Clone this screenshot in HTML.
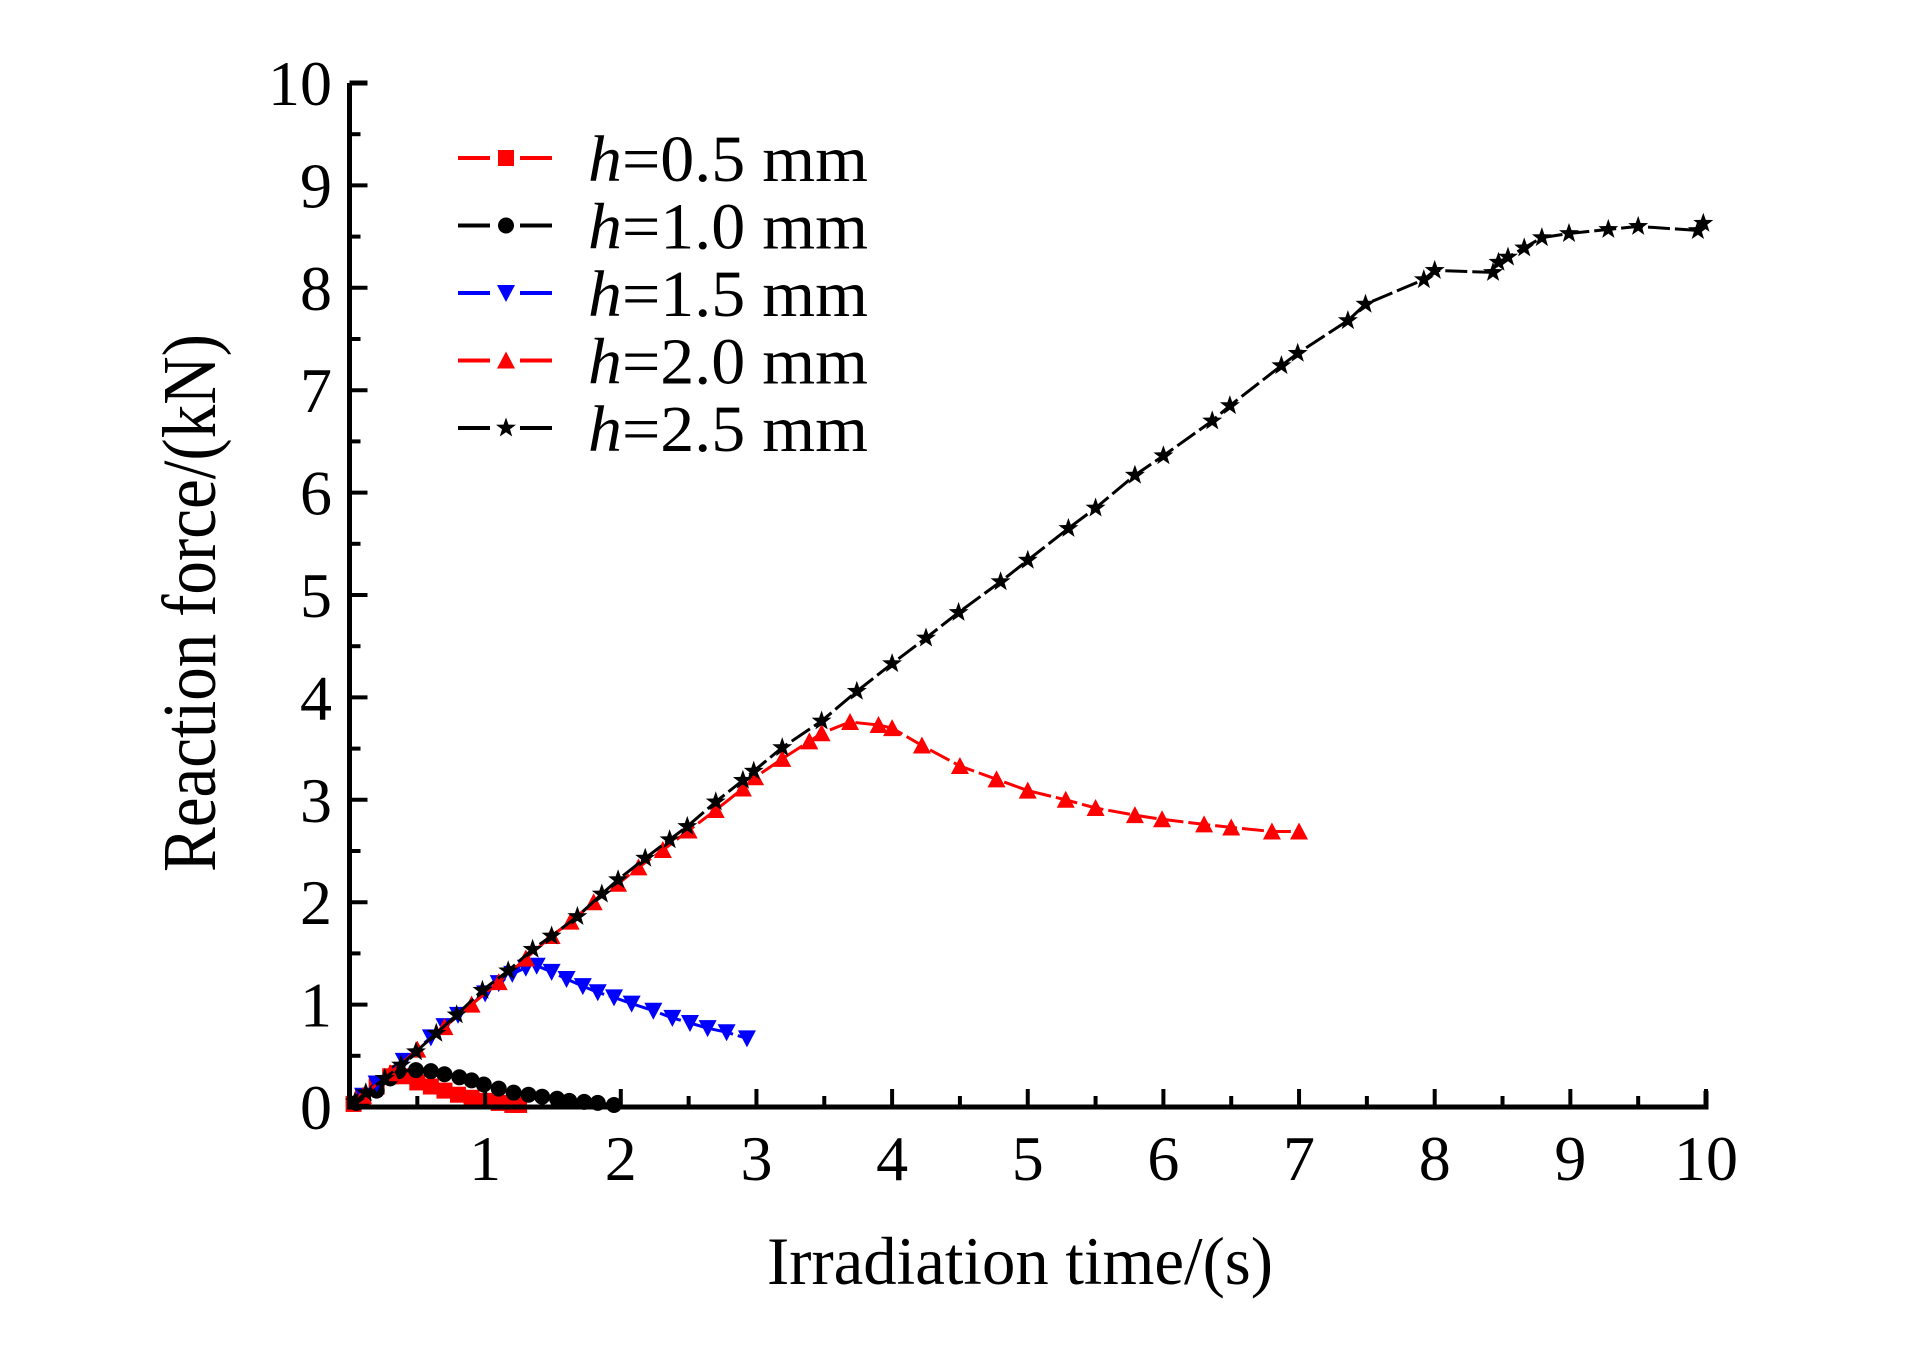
<!DOCTYPE html>
<html><head><meta charset="utf-8"><style>
html,body{margin:0;padding:0;background:#fff;}
svg{display:block;font-family:"Liberation Serif",serif;}
</style></head><body>
<svg id="chart" width="1923" height="1363" viewBox="0 0 1923 1363" xmlns="http://www.w3.org/2000/svg">
<rect width="1923" height="1363" fill="#fff"/>
<g id="series"></g>
<g id="axes"></g>
<text x="190" y="603" font-size="76" text-anchor="middle" textLength="538" lengthAdjust="spacingAndGlyphs" transform="rotate(-90 190 603) translate(0 25)">Reaction force/(kN)</text>
<text x="1020" y="1284" font-size="68" text-anchor="middle" textLength="506" lengthAdjust="spacingAndGlyphs">Irradiation time/(s)</text>
<g id="legend"></g>
</svg>
<script>
const xTicks=[0,1,2,3,4,5,6,7,8,9,10];
const yTicks=[0,1,2,3,4,5,6,7,8,9,10];
const t05=[0.03,0.1,0.2,0.3,0.35,0.4,0.5,0.6,0.7,0.8,0.9,1.0,1.1,1.2,1.25];
const v05=[0.03,0.1,0.2,0.3,0.33,0.3,0.24,0.2,0.16,0.12,0.09,0.06,0.04,0.02,0.02];
const t10=[0.05,0.1,0.2,0.3,0.36,0.49,0.6,0.7,0.81,0.9,0.99,1.1,1.21,1.32,1.42,1.53,1.62,1.73,1.83,1.95];
const v10=[0.04,0.08,0.16,0.28,0.35,0.36,0.35,0.32,0.29,0.26,0.22,0.18,0.14,0.12,0.1,0.08,0.06,0.05,0.04,0.02];
const t15=[0.1,0.2,0.4,0.6,0.7,0.8,1.0,1.1,1.2,1.3,1.38,1.49,1.6,1.72,1.83,1.95,2.08,2.24,2.38,2.51,2.64,2.78,2.93];
const v15=[0.11,0.23,0.45,0.68,0.79,0.9,1.11,1.21,1.3,1.36,1.38,1.32,1.25,1.18,1.12,1.07,1.01,0.94,0.87,0.82,0.77,0.73,0.67];
const t20=[0.1,0.3,0.5,0.7,0.9,1.1,1.3,1.49,1.63,1.8,1.98,2.13,2.31,2.5,2.7,2.9,2.99,3.19,3.39,3.48,3.69,3.9,4.0,4.22,4.5,4.77,5.0,5.28,5.5,5.79,5.99,6.3,6.5,6.8,7.0];
const v20=[0.11,0.33,0.56,0.78,1.0,1.22,1.45,1.67,1.81,2.0,2.18,2.34,2.51,2.7,2.9,3.11,3.22,3.4,3.57,3.65,3.76,3.73,3.7,3.53,3.33,3.2,3.09,3.0,2.92,2.85,2.81,2.76,2.73,2.69,2.69];
const t25=[0.04,0.12,0.26,0.38,0.49,0.64,0.79,0.98,1.17,1.35,1.49,1.68,1.86,1.98,2.18,2.36,2.49,2.7,2.9,2.98,3.19,3.48,3.74,4.0,4.25,4.49,4.8,5.0,5.3,5.5,5.79,6.0,6.36,6.49,6.87,6.99,7.36,7.49,7.92,8.0,8.43,8.47,8.54,8.66,8.79,8.99,9.28,9.5,9.94,9.98];
const v25=[0.05,0.14,0.28,0.41,0.54,0.72,0.9,1.14,1.33,1.54,1.67,1.86,2.08,2.22,2.43,2.61,2.74,2.98,3.19,3.28,3.51,3.77,4.06,4.33,4.58,4.83,5.13,5.34,5.65,5.85,6.17,6.36,6.7,6.85,7.24,7.36,7.68,7.84,8.08,8.17,8.15,8.25,8.3,8.39,8.49,8.53,8.57,8.6,8.56,8.63];
const seriesNames=["h=0.5 mm","h=1.0 mm","h=1.5 mm","h=2.0 mm","h=2.5 mm"];

const NS="http://www.w3.org/2000/svg";
const X0=349.5,X1=1706,Y0=1107,Y1=83;
function sx(v){return X0+(X1-X0)*v/10;}
function sy(v){return Y0-(Y0-Y1)*v/10;}
function mk(tag,attrs,parent){const e=document.createElementNS(NS,tag);for(const k in attrs)e.setAttribute(k,attrs[k]);parent.appendChild(e);return e;}

function marker(type,x,y,color,parent){
  let e;const s=8;
  if(type==="square"){e=mk("rect",{x:x-s,y:y-s,width:2*s,height:2*s,fill:color},parent);}
  else if(type==="circle"){e=mk("circle",{cx:x,cy:y,r:s,fill:color},parent);}
  else if(type==="down"){e=mk("polygon",{points:`${x-9},${y-8} ${x+9},${y-8} ${x},${y+9}`,fill:color},parent);}
  else if(type==="up"){e=mk("polygon",{points:`${x-9},${y+8} ${x+9},${y+8} ${x},${y-9}`,fill:color},parent);}
  else{let p=[];for(let i=0;i<10;i++){const r=i%2?4.2:10.5;const a=-Math.PI/2+i*Math.PI/5;p.push((x+r*Math.cos(a)).toFixed(1)+","+(y+r*Math.sin(a)).toFixed(1));}
    e=mk("polygon",{points:p.join(" "),fill:color},parent);}
  return e;
}

const seriesDefs=[[t05,v05,"#ff0000","square"],[t10,v10,"#000","circle"],[t15,v15,"#0000ff","down"],[t20,v20,"#ff0000","up"],[t25,v25,"#000","star"]];
const sg=document.getElementById("series");
seriesDefs.forEach((d,i)=>{
  const g=mk("g",{},sg);
  
  
  const pts=d[0].map((t,j)=>sx(t).toFixed(1)+","+sy(d[1][j]).toFixed(1)).join(" ");
  const pl=mk("polyline",{points:pts,fill:"none",stroke:d[2],"stroke-width":3,"stroke-dasharray":"22,5"},g);
  
  
  d[0].forEach((t,j)=>{
    const m=marker(d[3],sx(t),sy(d[1][j]),d[2],g);
    
    
  });
});

const ax=document.getElementById("axes");
const axl=mk("path",{d:`M${X0},${Y1} V${Y0} H${X1} V${Y0-16}`,fill:"none",stroke:"#000","stroke-width":5},ax);


mk("line",{x1:X0,y1:Y1,x2:X0+18,y2:Y1,stroke:"#000","stroke-width":5},ax);
xTicks.forEach(v=>{
  const x=sx(v);
  const tk=mk("line",{x1:x,y1:Y0,x2:x,y2:Y0-18,stroke:"#000","stroke-width":4},ax);
  
  
  if(v<10){const mx=sx(v+0.5);const m=mk("line",{x1:mx,y1:Y0,x2:mx,y2:Y0-11,stroke:"#000","stroke-width":4},ax);
    
    }
  if(v>0){const tx=mk("text",{x:x,y:1180,"font-size":64,"text-anchor":"middle"},ax);tx.textContent=v;
    
    }
});
yTicks.forEach(v=>{
  const y=sy(v);
  const tk=mk("line",{x1:X0,y1:y,x2:X0+18,y2:y,stroke:"#000","stroke-width":4},ax);
  
  
  if(v<10){const my=sy(v+0.5);const m=mk("line",{x1:X0,y1:my,x2:X0+11,y2:my,stroke:"#000","stroke-width":4},ax);
    
    }
  const tx=mk("text",{x:332,y:y+22,"font-size":64,"text-anchor":"end"},ax);tx.textContent=v;
  
  
});

const lg=document.getElementById("legend");
seriesDefs.forEach((d,i)=>{
  const y=158+i*67.5;
  const g=mk("g",{},lg);
  
  
  mk("line",{x1:458,y1:y,x2:490,y2:y,stroke:d[2],"stroke-width":4},g);
  mk("line",{x1:520,y1:y,x2:552,y2:y,stroke:d[2],"stroke-width":4},g);
  marker(d[3],506,y,d[2],g);
  const tx=mk("text",{x:588,y:y+23,"font-size":66,textLength:280,lengthAdjust:"spacingAndGlyphs"},g);
  const it=mk("tspan",{"font-style":"italic"},tx);it.textContent="h";
  const rest=mk("tspan",{},tx);rest.textContent=seriesNames[i].slice(1);
  
  
});
</script>
</body></html>
